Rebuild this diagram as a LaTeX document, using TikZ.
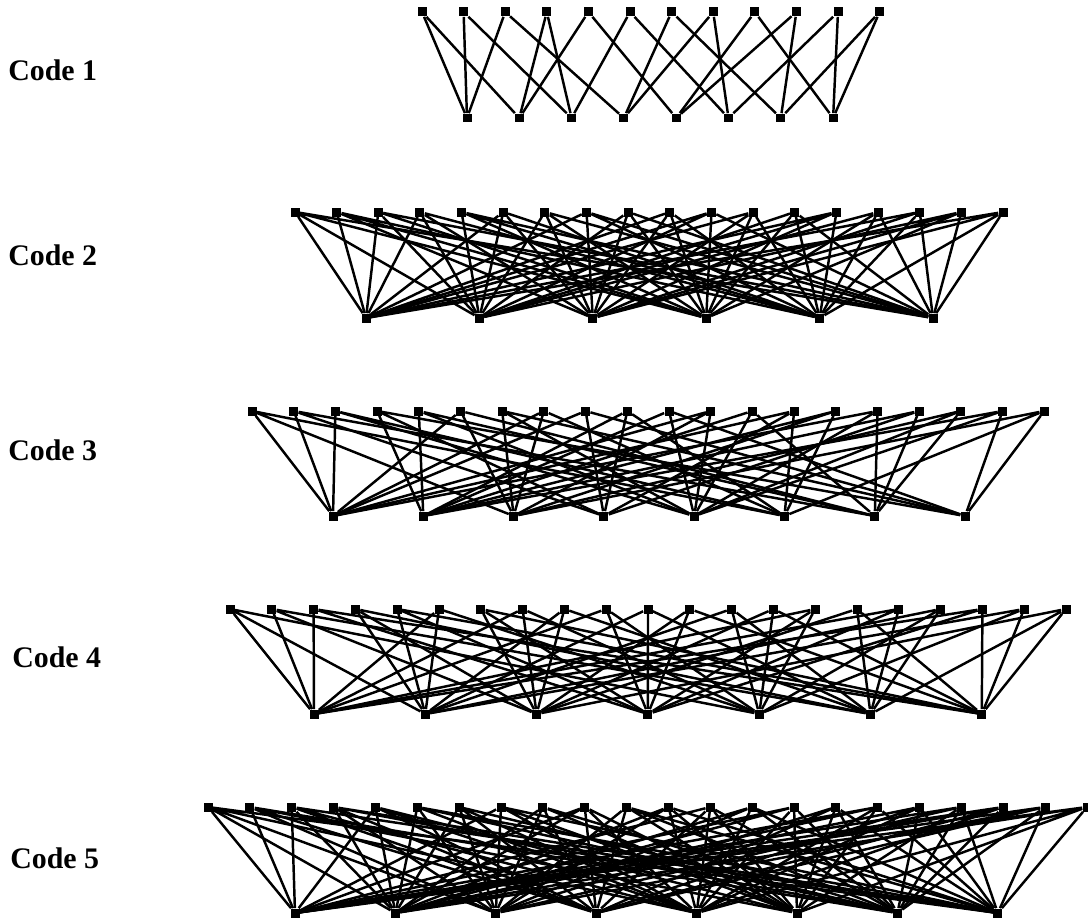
\documentclass[tikz,border=0pt]{standalone}
\usepackage{fontspec}
\setmainfont{Liberation Serif}

\begin{document}
\begin{tikzpicture}[
    x=0.02cm, y=-0.02cm,
    vnode/.style={rectangle, fill=black, inner sep=0pt, minimum size=1.8mm},
    edge/.style={line width=1.4pt, black},
    codelabel/.style={anchor=west, font=\fontsize{17}{20}\selectfont\bfseries, inner sep=0pt}
]
    \useasboundingbox (0,0) rectangle (1088,919);

    % labels
    \node[codelabel] (l1) at (8,70) {Code 1};
    \node[codelabel] (l2) at (8,255) {Code 2};
    \node[codelabel] (l3) at (8,450) {Code 3};
    \node[codelabel] (l4) at (12,657) {Code 4};
    \node[codelabel] (l5) at (10,858) {Code 5};

    % code 1: 12 variable nodes, 8 checks
    \foreach \i in {1,...,12} \node[vnode] (v1-\i) at ({422+41.6*(\i-1)},12) {};
    \foreach \i in {1,...,8} \node[vnode] (c1-\i) at ({467+52.3*(\i-1)},118) {};
    \foreach \t/\b in {1/1,1/2,2/1,2/3,3/1,3/4,4/2,4/3,5/2,5/5,6/3,6/6,
                       7/4,7/7,8/4,8/6,9/5,9/8,10/5,10/7,11/6,11/8,12/7,12/8}
        \draw[edge] (v1-\t) -- (c1-\b);

    % code 2: 18 variable nodes, 6 checks
    \foreach \i in {0,...,17} \node[vnode] (v2-\i) at ({295+41.65*\i},212) {};
    \foreach \i in {0,...,5} \node[vnode] (c2-\i) at ({366+113.4*\i},318) {};
    \foreach \t in {0,...,17}{
        \pgfmathtruncatemacro{\g}{floor(\t/3)}
        \pgfmathtruncatemacro{\bb}{mod(\g+1+mod(\t,3),6)}
        \pgfmathtruncatemacro{\bc}{mod(\g+3+mod(\t,3),6)}
        \pgfmathtruncatemacro{\bd}{mod(\g+11-2*mod(\t,3),6)}
        \draw[edge] (v2-\t) -- (c2-\g) (v2-\t) -- (c2-\bb) (v2-\t) -- (c2-\bc)
                    (v2-\t) -- (c2-\bd);
    }

    % code 3: 20 variable nodes, 8 checks
    \foreach \i in {0,...,19} \node[vnode] (v3-\i) at ({252+41.7*\i},411) {};
    \foreach \i in {0,...,7} \node[vnode] (c3-\i) at ({333+90.3*\i},516) {};
    \foreach \t in {0,...,19}{
        \pgfmathtruncatemacro{\g}{floor(2*\t/5)}
        \pgfmathtruncatemacro{\bb}{mod(\g+2+mod(\t,3),8)}
        \pgfmathtruncatemacro{\bc}{mod(\g+5+mod(\t,2),8)}
        \draw[edge] (v3-\t) -- (c3-\g) (v3-\t) -- (c3-\bb) (v3-\t) -- (c3-\bc);
    }

    % code 4: 21 variable nodes, 7 checks
    \foreach \i in {0,...,20} \node[vnode] (v4-\i) at ({230+41.8*\i},609) {};
    \foreach \i in {0,...,6} \node[vnode] (c4-\i) at ({314+111.3*\i},714) {};
    \foreach \t in {0,...,20}{
        \pgfmathtruncatemacro{\g}{floor(\t/3)}
        \pgfmathtruncatemacro{\bb}{mod(\g+1+mod(\t,3),7)}
        \pgfmathtruncatemacro{\bc}{mod(\g+4+mod(\t,3),7)}
        \draw[edge] (v4-\t) -- (c4-\g) (v4-\t) -- (c4-\bb) (v4-\t) -- (c4-\bc);
    }

    % code 5: 22 variable nodes, 8 checks
    \foreach \i in {0,...,21} \node[vnode] (v5-\i) at ({208+41.86*\i},807) {};
    \foreach \i in {0,...,7} \node[vnode] (c5-\i) at ({295+100.4*\i},913) {};
    \foreach \t in {0,...,21}{
        \pgfmathtruncatemacro{\g}{floor(4*\t/11)}
        \pgfmathtruncatemacro{\bb}{mod(\g+1+mod(\t,3),8)}
        \pgfmathtruncatemacro{\bc}{mod(\g+4+mod(\t,2),8)}
        \pgfmathtruncatemacro{\bd}{mod(\g+6+mod(\t+1,2),8)}
        \pgfmathtruncatemacro{\be}{mod(\g+1+mod(\t+1,3),8)}
        \draw[edge] (v5-\t) -- (c5-\g) (v5-\t) -- (c5-\bb) (v5-\t) -- (c5-\bc)
                    (v5-\t) -- (c5-\bd) (v5-\t) -- (c5-\be);
    }
\end{tikzpicture}
\end{document}
